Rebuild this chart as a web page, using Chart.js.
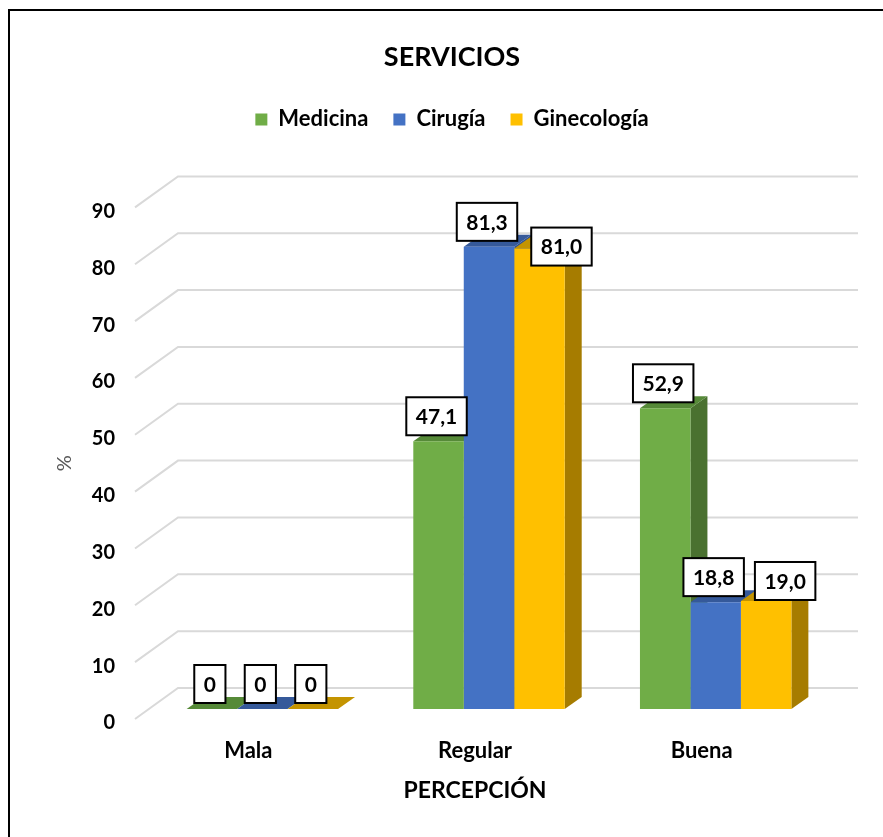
<!DOCTYPE html>
<html lang="es">
<head>
  <meta charset="UTF-8">
  <title>Servicios - Percepción</title>
  <script src="https://cdn.jsdelivr.net/npm/chart.js"></script>
  <style>
    html, body {
      margin: 0;
      padding: 0;
      background: #fff;
      overflow: hidden;
    }
    .frame {
      position: absolute;
      left: 8px;
      top: 9px;
      width: 900px;
      height: 900px;
      border-left: 2px solid #000;
      border-top: 2px solid #000;
    }
    canvas {
      position: absolute;
      left: 0;
      top: 0;
    }
  </style>
</head>
<body>
  <div class="frame"></div>
  <canvas id="serviciosChart" width="883" height="837"></canvas>

  <script>
    const categories = ['Mala', 'Regular', 'Buena'];
    const medicina = [0, 47.1, 52.9];
    const cirugia = [0, 81.3, 18.8];
    const ginecologia = [0, 81.0, 19.0];
    const yTicks = [0, 10, 20, 30, 40, 50, 60, 70, 80, 90];

    const FONT = 'Lato, "DejaVu Sans", sans-serif';

    // 3D look: bars sit a bit behind the axis plane, the wall further back
    const FRONT = { dx: 14, dy: -10 };
    const BAR_DEPTH = { dx: 17, dy: -12 };
    const WALL = { dx: 43, dy: -31 };

    const shades = [
      { top: '#568a38', side: '#4a7130' },
      { top: '#35599a', side: '#2f5190' },
      { top: '#c49400', side: '#a67c00' }
    ];

    // some labels were nudged so they don't sit on the neighbouring one
    const labelShift = { '2-1': [24, 23], '2-2': [21, 5] };

    function poly(ctx, color, pts) {
      ctx.fillStyle = color;
      ctx.beginPath();
      ctx.moveTo(pts[0][0], pts[0][1]);
      for (let i = 1; i < pts.length; i++) ctx.lineTo(pts[i][0], pts[i][1]);
      ctx.closePath();
      ctx.fill();
    }

    function fmt(v) {
      return v === 0 ? '0' : v.toFixed(1).replace('.', ',');
    }

    // room above and right of the plot for the back wall
    const wallSpace = {
      id: 'wallSpace',
      beforeInit(chart) {
        [['top', 67], ['right', 68]].forEach(([position, size]) => {
          Chart.layouts.addBox(chart, {
            position: position,
            weight: 0,
            fullSize: false,
            options: {},
            isHorizontal() { return position === 'top'; },
            update(maxWidth, maxHeight) {
              this.width = position === 'top' ? maxWidth : size;
              this.height = position === 'top' ? size : maxHeight;
            },
            draw() {}
          });
        });
      }
    };

    const depth = {
      id: 'depth',
      beforeDatasetsDraw(chart) {
        const { ctx, chartArea } = chart;
        const yScale = chart.scales.y;

        ctx.save();
        ctx.strokeStyle = '#d9d9d9';
        ctx.lineWidth = 2;
        yTicks.forEach(v => {
          const py = yScale.getPixelForValue(v);
          ctx.beginPath();
          ctx.moveTo(chartArea.left, py);
          ctx.lineTo(chartArea.left + WALL.dx, py + WALL.dy);
          ctx.lineTo(chartArea.right + WALL.dx, py + WALL.dy);
          ctx.stroke();
        });
        ctx.restore();

        // left to right: side, then top; fronts come from chart.js afterwards
        ctx.save();
        ctx.translate(FRONT.dx, FRONT.dy);
        categories.forEach((c, i) => {
          chart.data.datasets.forEach((ds, d) => {
            const bar = chart.getDatasetMeta(d).data[i];
            const { x, y, base, width } = bar.getProps(['x', 'y', 'base', 'width'], true);
            const l = x - width / 2;
            const r = x + width / 2;
            const dx = BAR_DEPTH.dx, dy = BAR_DEPTH.dy;
            poly(ctx, shades[d].side, [[r, y], [r + dx, y + dy], [r + dx, base + dy], [r, base]]);
            poly(ctx, shades[d].top, [[l, y], [l + dx, y + dy], [r + dx, y + dy], [r, y]]);
          });
        });
      },
      afterDatasetsDraw(chart) {
        const ctx = chart.ctx;
        ctx.restore();

        ctx.save();
        ctx.font = 'bold 21px ' + FONT;
        ctx.textAlign = 'center';
        ctx.textBaseline = 'middle';
        chart.data.datasets.forEach((ds, d) => {
          chart.getDatasetMeta(d).data.forEach((bar, i) => {
            const text = fmt(ds.data[i]);
            const shift = labelShift[d + '-' + i] || [0, 0];
            const w = ctx.measureText(text).width + 19;
            const h = 38;
            const cx = bar.x + FRONT.dx - 2 + shift[0];
            const bottom = bar.y + FRONT.dy - 6 + shift[1];
            ctx.fillStyle = '#fff';
            ctx.fillRect(cx - w / 2, bottom - h, w, h);
            ctx.strokeStyle = '#000';
            ctx.lineWidth = 2;
            ctx.strokeRect(cx - w / 2, bottom - h, w, h);
            ctx.fillStyle = '#000';
            ctx.fillText(text, cx, bottom - h / 2 + 1);
          });
        });
        ctx.restore();
      }
    };

    const ctx = document.getElementById('serviciosChart').getContext('2d');
    new Chart(ctx, {
      type: 'bar',
      data: {
        labels: categories,
        datasets: [
          { label: 'Medicina', data: medicina, backgroundColor: '#70ad47' },
          { label: 'Cirugía', data: cirugia, backgroundColor: '#4472c4' },
          { label: 'Ginecología', data: ginecologia, backgroundColor: '#ffc000' }
        ]
      },
      options: {
        responsive: false,
        animation: false,
        datasets: {
          bar: { categoryPercentage: 0.668, barPercentage: 1, borderWidth: 0 }
        },
        layout: { padding: { top: 41, left: 21, right: 0, bottom: 0 } },
        plugins: {
          title: {
            display: true,
            text: 'SERVICIOS',
            color: '#000',
            font: { family: FONT, size: 27, weight: 'bold' },
            padding: { top: 0, bottom: 10 }
          },
          legend: {
            position: 'top',
            labels: {
              boxWidth: 12,
              boxHeight: 12,
              padding: 25,
              color: '#000',
              font: { family: FONT, size: 22, weight: 'bold' }
            }
          },
          tooltip: { enabled: false }
        },
        scales: {
          x: {
            grid: { display: false, drawTicks: false },
            border: { display: false },
            ticks: { color: '#000', padding: 19, font: { family: FONT, size: 22, weight: 'bold' } },
            title: {
              display: true,
              text: 'PERCEPCIÓN',
              color: '#000',
              font: { family: FONT, size: 23, weight: 'bold' },
              padding: { top: 0, bottom: 33 }
            },
            afterFit(scale) { scale.height = 118; }
          },
          y: {
            min: 0,
            max: 90,
            grid: { display: false, drawTicks: false },
            border: { display: false },
            afterBuildTicks(scale) { scale.ticks = yTicks.map(v => ({ value: v })); },
            ticks: { color: '#000', padding: 20, labelOffset: 4, font: { family: FONT, size: 20, weight: 'bold' } },
            title: {
              display: true,
              text: '%',
              color: '#595959',
              font: { family: FONT, size: 20 },
              padding: { top: 32, bottom: 0 }
            },
            afterFit(scale) { scale.width = 114; }
          }
        }
      },
      plugins: [wallSpace, depth]
    });
  </script>
</body>
</html>
